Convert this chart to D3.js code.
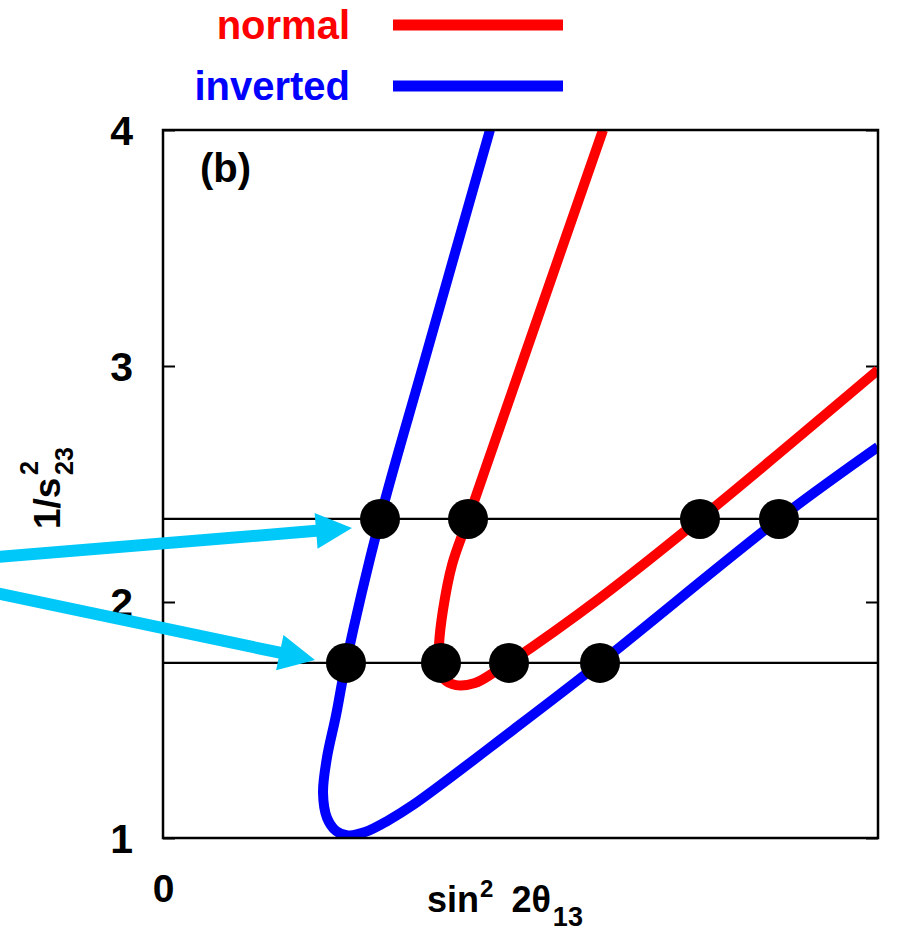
<!DOCTYPE html>
<html><head><meta charset="utf-8">
<script src="https://cdn.jsdelivr.net/npm/d3@7"></script>
<style>
body{margin:0;background:#fff}
text{font-family:"Liberation Sans",Arial,Helvetica,sans-serif;font-weight:bold}
</style>
</head><body>
<svg id="c" width="918" height="952"></svg>
<script>
// ---- data ----
const yTicks = [1, 2, 3, 4];
const xTicks = [0];
const seriesNames = ["normal", "inverted"];
const seriesColors = ["#ff0000", "#0000ff"];
const normalCurve = [
  [0.6154,4.0],[0.5007,3.0],[0.4266,2.352],[0.4042,2.157],[0.3916,1.966],
  [0.3860,1.818],[0.3860,1.733],[0.3930,1.674],[0.4098,1.648],[0.4364,1.657],
  [0.4615,1.699],[0.4839,1.742],[0.6112,2.017],[0.7510,2.352],[1.0,2.983]
];
const invertedCurve = [
  [0.4573,4.0],[0.3636,3.0],[0.3035,2.352],[0.2559,1.742],[0.2420,1.520],
  [0.2290,1.335],[0.2238,1.191],[0.2294,1.085],[0.2420,1.030],[0.2587,1.011],
  [0.2825,1.025],[0.3147,1.074],[0.3497,1.140],[0.4895,1.458],[0.6112,1.742],
  [0.8615,2.352],[1.0,2.657]
];
const levels = [2.352, 1.742];
const dotsUpperX = [0.3035, 0.4266, 0.7510, 0.8615];
const dotsLowerX = [0.2559, 0.3888, 0.4839, 0.6112];
const arrowFrom = [[-0.25, 2.186], [-0.25, 2.048]];
const arrowTo   = [[0.2643, 2.314], [0.2126, 1.754]];

// ---- layout ----
const M = {left:163, top:130, right:878, bottom:838};
const svg = d3.select("#c");
const x = d3.scaleLinear().domain([0,1]).range([M.left, M.right]);
const y = d3.scaleLinear().domain([1,4]).range([M.bottom, M.top]);

svg.append("defs").append("clipPath").attr("id","plot")
  .append("rect").attr("x",M.left).attr("y",M.top)
  .attr("width",M.right-M.left).attr("height",M.bottom-M.top);

// axes
const yl = svg.append("g").attr("transform",`translate(${M.left},0)`)
  .call(d3.axisLeft(y).tickValues(yTicks).tickFormat(d3.format("d")).tickSizeInner(-12).tickSizeOuter(0).tickPadding(30));
yl.select(".domain").remove();
yl.selectAll("line").attr("stroke","#000").attr("stroke-width",2);
yl.selectAll("text").attr("font-size",41).attr("fill","#000").attr("dy","0.36em");

const yr = svg.append("g").attr("transform",`translate(${M.right},0)`)
  .call(d3.axisRight(y).tickValues(yTicks).tickFormat("").tickSizeInner(-12).tickSizeOuter(0));
yr.select(".domain").remove();
yr.selectAll("line").attr("stroke","#000").attr("stroke-width",2);

const xb = svg.append("g").attr("transform",`translate(0,${M.bottom})`)
  .call(d3.axisBottom(x).tickValues(xTicks).tickFormat(d3.format("d")).tickSize(0).tickPadding(36));
xb.select(".domain").remove();
xb.selectAll("text").attr("font-size",39).attr("fill","#000");

// horizontal levels
svg.selectAll(".lvl").data(levels).enter().append("line")
  .attr("x1",x(0)).attr("x2",x(1)).attr("y1",d=>y(d)).attr("y2",d=>y(d))
  .attr("stroke","#000").attr("stroke-width",2.2);

// curves
const line = d3.line().x(d=>x(d[0])).y(d=>y(d[1])).curve(d3.curveCatmullRom.alpha(0.5));
const g = svg.append("g").attr("clip-path","url(#plot)");
[normalCurve, invertedCurve].forEach((c,i)=>{
  g.append("path").attr("d",line(c)).attr("fill","none")
   .attr("stroke",seriesColors[i]).attr("stroke-width",10).attr("stroke-linejoin","round");
});

// frame
svg.append("rect").attr("x",M.left).attr("y",M.top)
  .attr("width",M.right-M.left).attr("height",M.bottom-M.top)
  .attr("fill","none").attr("stroke","#000").attr("stroke-width",2.5);

// dots
const dots = dotsUpperX.map(v=>[v,levels[0]]).concat(dotsLowerX.map(v=>[v,levels[1]]));
svg.selectAll(".dot").data(dots).enter().append("circle")
  .attr("cx",d=>x(d[0])).attr("cy",d=>y(d[1])).attr("r",20).attr("fill","#000");

// arrows
const cyan = "#00c8f8";
arrowFrom.forEach((f,i)=>{
  const x0=x(f[0]), y0=y(f[1]), x1=x(arrowTo[i][0]), y1=y(arrowTo[i][1]);
  const dx=x1-x0, dy=y1-y0, L=Math.hypot(dx,dy), ux=dx/L, uy=dy/L, nx=-uy, ny=ux;
  const hl=36, hw=18, sw=6;
  const bx=x1-ux*hl, by=y1-uy*hl;
  const pts=[[x0+nx*sw,y0+ny*sw],[bx+nx*sw,by+ny*sw],[bx+nx*hw,by+ny*hw],[x1,y1],
             [bx-nx*hw,by-ny*hw],[bx-nx*sw,by-ny*sw],[x0-nx*sw,y0-ny*sw]];
  svg.append("path").attr("d","M"+pts.map(p=>p.join(",")).join("L")+"Z").attr("fill",cyan);
});

// legend
const lg = svg.append("g");
seriesNames.forEach((n,i)=>{
  const by = [39,100][i];
  lg.append("text").attr("x",350).attr("y",by).attr("text-anchor","end")
    .attr("font-size",40).attr("fill",seriesColors[i]).text(n);
  lg.append("line").attr("x1",393).attr("x2",563).attr("y1",by-14).attr("y2",by-14)
    .attr("stroke",seriesColors[i]).attr("stroke-width",11);
});

// panel label
svg.append("text").attr("x",200).attr("y",182).attr("font-size",40).attr("fill","#000").text("(b)");

// x label
const xl = svg.append("text").attr("x",427).attr("y",912).attr("font-size",36).attr("fill","#000");
xl.append("tspan").text("sin");
xl.append("tspan").attr("font-size",24).attr("dx",1).attr("dy",-15).text("2");
xl.append("tspan").attr("dx",18).attr("dy",15).text("2\u03b8");
xl.append("tspan").attr("font-size",27).attr("dx",2).attr("dy",14).text("13");

// y label (rotated)
const ylab = svg.append("g").attr("transform","translate(60,529) rotate(-90)");
ylab.append("text").attr("x",0).attr("y",0).attr("font-size",37).attr("fill","#000").text("1/s");
ylab.append("text").attr("x",54).attr("y",-22).attr("font-size",25).attr("fill","#000").text("2");
ylab.append("text").attr("x",54).attr("y",13).attr("font-size",25).attr("fill","#000").text("23");
</script>
</body></html>
